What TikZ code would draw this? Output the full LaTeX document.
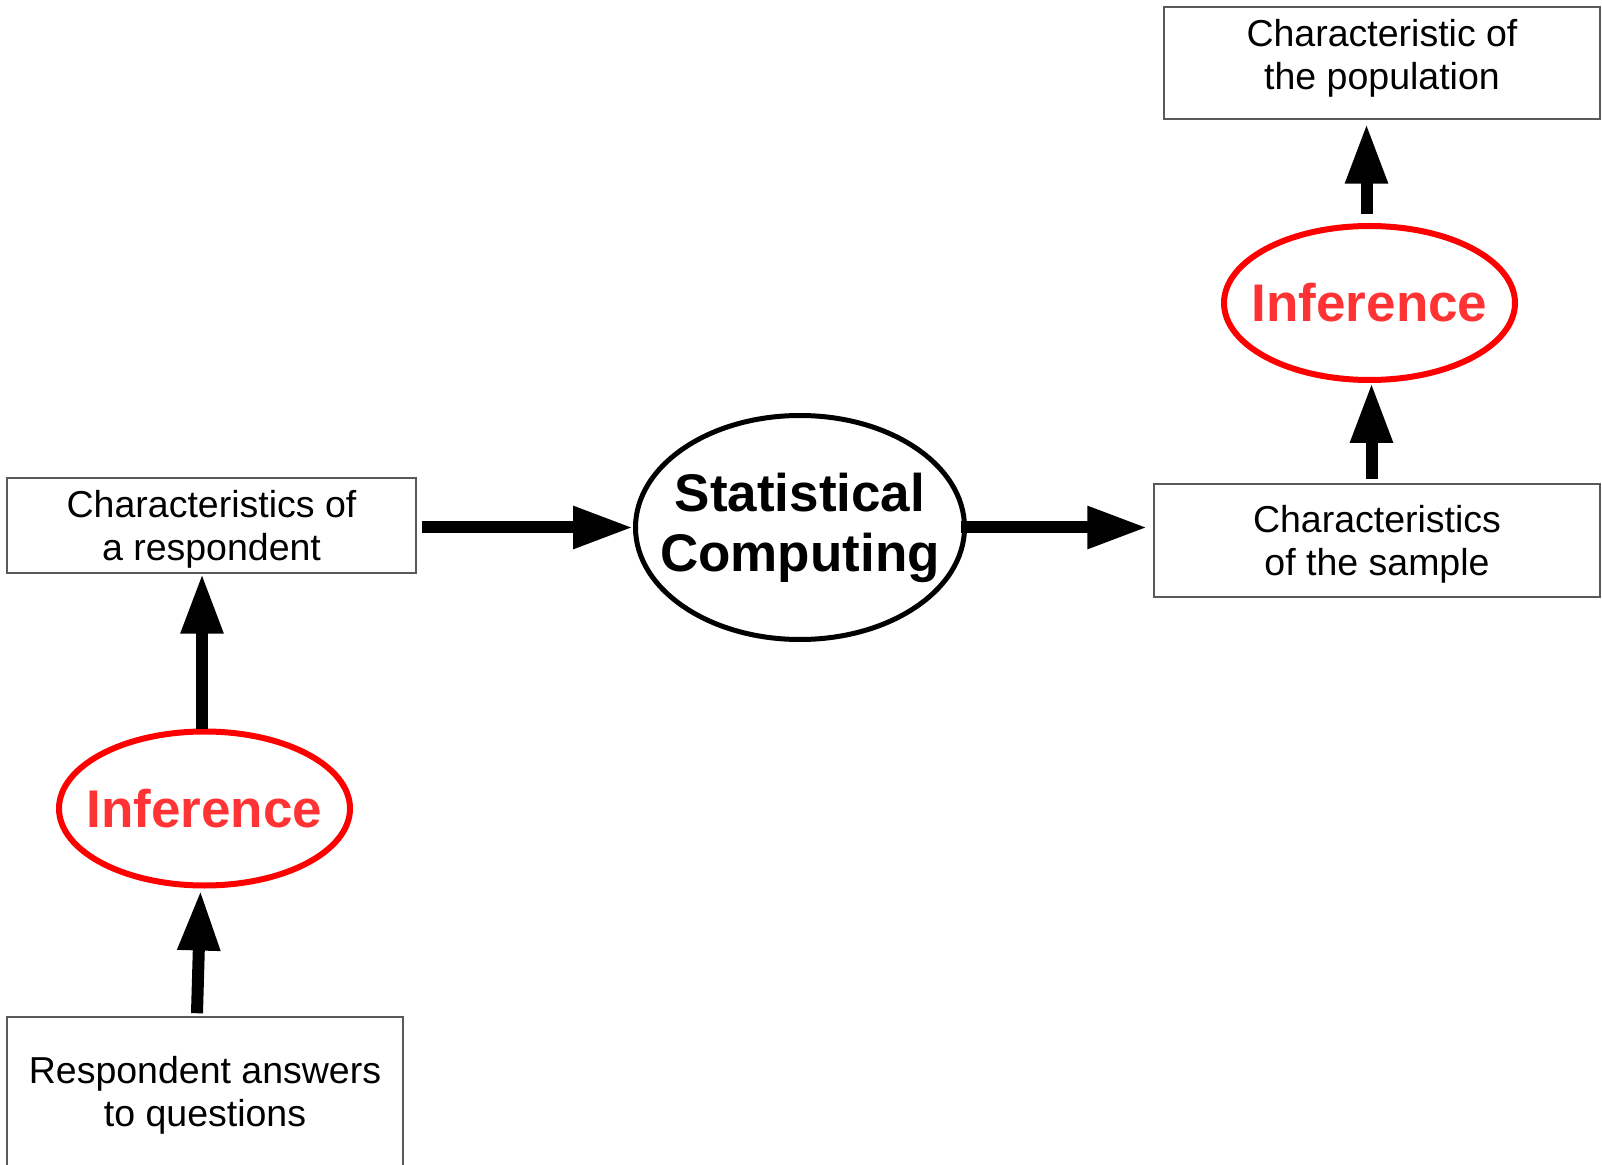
\documentclass[tikz,border=0pt]{standalone}
\usepackage{fontspec}
\setmainfont{Liberation Sans}
\usetikzlibrary{positioning,arrows.meta,shapes}
\definecolor{infred}{RGB}{255,0,0}
\definecolor{inftext}{RGB}{255,51,51}
\tikzstyle{databox}=[rectangle, draw=black!65, line width=0.75pt, inner sep=0pt, align=center,
font=\fontsize{18.75}{21.5}\selectfont]
\tikzstyle{infbox}=[ellipse, draw=infred, line width=3pt, inner sep=-10pt, minimum width=145.5pt,
minimum height=77pt, text=inftext, font=\fontsize{26.5}{30}\selectfont\bfseries]
\tikzstyle{statbox}=[ellipse, draw=black, line width=2.5pt, inner sep=-15pt, minimum width=164.5pt,
minimum height=112pt, align=center, font=\fontsize{26.5}{30}\selectfont\bfseries]
\tikzstyle{fatarrow}=[-{Triangle[length=30pt,width=20pt]}, line width=6pt]

\begin{document}
\begin{tikzpicture}[x=0.5pt,y=0.5pt]
    \useasboundingbox (0,0) rectangle (1602,1164);

% left column
    \node (answers) [databox, minimum width=198pt, minimum height=78pt] at (205,69) {Respondent answers\\ to questions};
    \node (inflow) [infbox] at (204.5,355.5) {Inference};
    \node (resp) [databox, minimum width=204.5pt, minimum height=47.5pt] at (211.5,638.5) {\rule{0pt}{17.5pt}Characteristics of\\ a respondent};

% middle
    \node (stat) [statbox] at (800,636.5) {Statistical\\ Computing};

% right column
    \node (sample) [databox, minimum width=223pt, minimum height=56.5pt] at (1377,623.5) {\rule{0pt}{17.5pt}Characteristics\\ of the sample};
    \node (infup) [infbox] at (1369.5,861) {Inference};
    \node (pop) [databox, minimum width=218pt, minimum height=56pt] at (1382,1101) {Characteristic of\\ the population\rule[-8.5pt]{0pt}{8.5pt}};

%arrows
   \draw[fatarrow] ([shift={(-8,3)}]answers.north) -- ([shift={(-4,-2)}]inflow.south);
   \draw[fatarrow] ([xshift=-1.25pt]inflow.north) -- ([xshift=-1.25pt]inflow.north |- resp.south);
   \draw[fatarrow, shorten <=2.5pt] (resp.east |- stat.west) -- (stat.west);
   \draw[fatarrow, shorten <=-3pt, shorten >=3pt] (stat.east) -- (stat.east -| sample.west);
   \draw[fatarrow, shorten <=2pt] ([xshift=1pt]infup.south |- sample.north) -- ([xshift=1pt]infup.south);
   \draw[fatarrow, shorten <=4.5pt, shorten >=2pt] ([xshift=-1.5pt]infup.north) -- ([xshift=-1.5pt]infup.north |- pop.south);

\end{tikzpicture}
\end{document}
